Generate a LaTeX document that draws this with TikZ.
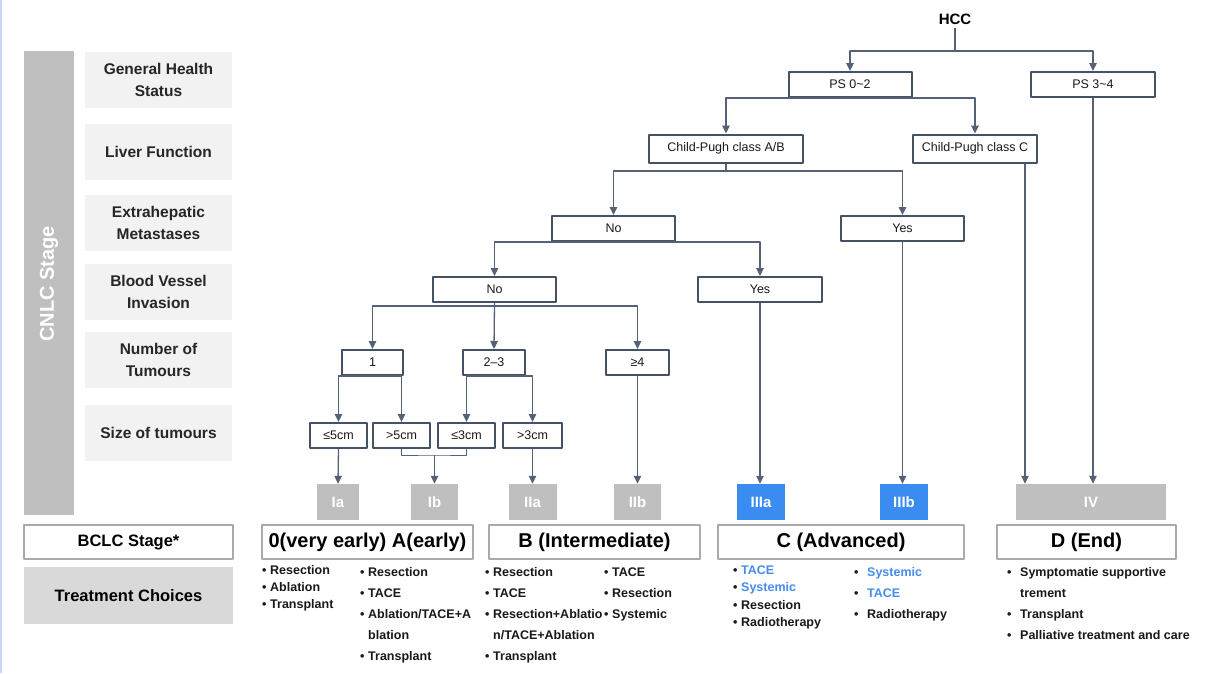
\documentclass[tikz,border=0pt]{standalone}
\usepackage{fontspec}
\setmainfont{Liberation Sans}
\usetikzlibrary{arrows.meta}

\definecolor{edgeblue}{RGB}{200,214,250}
\definecolor{bargray}{RGB}{191,191,191}
\definecolor{rowgray}{RGB}{242,242,242}
\definecolor{treatgray}{RGB}{217,217,217}
\definecolor{boxline}{RGB}{68,82,102}
\definecolor{arrline}{RGB}{84,97,118}
\definecolor{stagegray}{RGB}{191,191,191}
\definecolor{stageblue}{RGB}{58,140,240}
\definecolor{txtblue}{RGB}{70,140,240}
\definecolor{bclcline}{RGB}{170,170,170}

\newcommand{\itm}[2][8pt]{\makebox[#1][l]{\textbullet}#2}
\newcommand{\blu}[1]{\textcolor{txtblue}{#1}}

\tikzset{
  rowbox/.style={fill=rowgray, minimum width=147, minimum height=56, inner sep=0pt,
    align=center, font=\bfseries\fontsize{15.5}{22}\selectfont, text=black!85},
  treebox/.style={draw=boxline, line width=2pt, fill=white, minimum height=25,
    inner sep=0pt, text=black!90, font=\fontsize{12.5}{14}\selectfont},
  stagebox/.style={fill=#1, minimum height=36, inner sep=0pt, text=white,
    font=\bfseries\fontsize{15}{17}\selectfont},
  bclcbox/.style={draw=bclcline, line width=1.2pt, fill=white, minimum height=34,
    inner sep=0pt, font=\bfseries\fontsize{20}{24}\selectfont},
  txlist/.style={anchor=north west, inner sep=0pt, align=left, text=black!90},
  line/.style={draw=arrline, line width=1.3pt},
  arr/.style={line, -{Triangle[length=8pt,width=7.5pt]}}
}

\begin{document}
\begin{tikzpicture}[x=1pt,y=-1pt,line join=round]
  \useasboundingbox (0,0) rectangle (1211,673);
  \fill[white] (0,0) rectangle (1211,673);
  \fill[edgeblue] (0,0) rectangle (2,673);

  % Left panel
  \fill[bargray] (24,51) rectangle (74,515);
  \node[rotate=90, text=white, font=\bfseries\fontsize{20}{24}\selectfont] (cnlc) at (49,284) {CNLC Stage};
  \node[rowbox] (rgh) at (158.5,79.5) {General Health\\Status};
  \node[rowbox] (rlf) at (158.5,152) {Liver Function};
  \node[rowbox] (rem) at (158.5,222.5) {Extrahepatic\\Metastases};
  \node[rowbox] (rbv) at (158.5,291.5) {Blood Vessel\\Invasion};
  \node[rowbox] (rnt) at (158.5,359.5) {Number of\\Tumours};
  \node[rowbox] (rsz) at (158.5,432.5) {Size of tumours};
  \node[bclcbox, minimum width=209, font=\bfseries\fontsize{16.5}{20}\selectfont] (bclc) at (128.5,542) {BCLC Stage*};
  \node[fill=treatgray, minimum width=209, minimum height=57, inner sep=0pt,
    font=\bfseries\fontsize{16.5}{20}\selectfont] (treat) at (128.5,595.5) {Treatment Choices};

  % Decision tree
  \node[font=\bfseries\fontsize{15}{18}\selectfont] (hcc) at (955,19) {HCC};
  \node[treebox, minimum width=123] (ps02) at (850,84.5) {PS 0\textasciitilde2};
  \node[treebox, minimum width=124] (ps34) at (1093,84.5) {PS 3\textasciitilde4};
  \node[treebox, minimum width=154, minimum height=28] (cpab) at (726,148.5) {Child-Pugh class A/B};
  \node[treebox, minimum width=124, minimum height=28] (cpc) at (975,148.5) {Child-Pugh class C};
  \node[treebox, minimum width=123] (exno) at (613.5,228.5) {No};
  \node[treebox, minimum width=123] (exyes) at (902.5,228.5) {Yes};
  \node[treebox, minimum width=123] (bvno) at (494.5,289.5) {No};
  \node[treebox, minimum width=124] (bvyes) at (760,289.5) {Yes};
  \node[treebox, minimum width=61] (nt1) at (372.5,362.5) {1};
  \node[treebox, minimum width=62] (nt23) at (494,362.5) {2--3};
  \node[treebox, minimum width=63] (nt4) at (637.5,362.5) {≥4};
  \node[treebox, minimum width=57] (sz1) at (338.5,435.5) {≤5cm};
  \node[treebox, minimum width=57] (sz2) at (401.5,435.5) {>5cm};
  \node[treebox, minimum width=57] (sz3) at (466.5,435.5) {≤3cm};
  \node[treebox, minimum width=59] (sz4) at (532.5,435.5) {>3cm};

  % Stages
  \node[stagebox=stagegray, minimum width=42] (ia) at (338,502) {Ia};
  \node[stagebox=stagegray, minimum width=47] (ib) at (434.5,502) {Ib};
  \node[stagebox=stagegray, minimum width=48] (iia) at (532.5,502) {IIa};
  \node[stagebox=stagegray, minimum width=47] (iib) at (637.5,502) {IIb};
  \node[stagebox=stageblue, minimum width=48] (iiia) at (761,502) {IIIa};
  \node[stagebox=stageblue, minimum width=48] (iiib) at (904,502) {IIIb};
  \node[stagebox=stagegray, minimum width=150] (iv) at (1091,502) {IV};

  % Connectors
  \coordinate (j0) at (955,51);
  \draw[line] (hcc.south) -- (j0);
  \draw[arr] (j0) -| (ps02.north);
  \draw[arr] (j0) -| (ps34.north);
  \draw[arr] (ps02.south) -| (cpab.north);
  \draw[arr] (ps02.south) -| (cpc.north);
  \coordinate (j1) at (726,171);
  \draw[line] (cpab.south) -- (j1);
  \draw[arr] (j1) -| (exno.north);
  \draw[arr] (j1) -| (exyes.north);
  \draw[arr] (exno.south) -| (bvno.north);
  \draw[arr] (exno.south) -| (bvyes.north);
  \draw[arr] (bvno.south) -- ++(0,3) -| (nt1.north);
  \draw[arr] (bvno.south) -- (nt23.north);
  \draw[arr] (bvno.south) -- ++(0,3) -| (nt4.north);
  \draw[arr] (nt1.south) -| (sz1.north);
  \draw[arr] (nt1.south) -| (sz2.north);
  \draw[arr] (nt23.south) -| (sz3.north);
  \draw[arr] (nt23.south) -| (sz4.north);
  \draw[arr] (sz1.south) -- (ia.north);
  \coordinate (ibjoin) at (434.5,455);
  \draw[line, line width=1pt] (sz2.south) |- (ibjoin) -| (sz3.south);
  \draw[arr] (ibjoin) -- (ib.north);
  \draw[arr] (sz4.south) -- (iia.north);
  \draw[arr] (nt4.south) -- (iib.north);
  \draw[arr] (bvyes.south) -- (bvyes.south |- iiia.north);
  \draw[arr] (exyes.south) -- (exyes.south |- iiib.north);
  \draw[arr] ([xshift=50]cpc.south) -- ([xshift=50]cpc.south |- iv.north);
  \draw[arr] (ps34.south) -- (ps34.south |- iv.north);

  % BCLC stage row
  \node[bclcbox, minimum width=211] (st0a) at (367.5,542) {0(very early) A(early)};
  \node[bclcbox, minimum width=211] (stb) at (594.5,542) {B (Intermediate)};
  \node[bclcbox, minimum width=246] (stc) at (841,542) {C (Advanced)};
  \node[bclcbox, minimum width=179] (std) at (1086.5,542) {D (End)};

  % Treatment choices
  \node[txlist, font=\bfseries\fontsize{12.5}{17}\selectfont] (tx0) at (262,565.5)
    {\itm{Resection}\\\itm{Ablation}\\\itm{Transplant}};
  \node[txlist, font=\bfseries\fontsize{12.5}{21}\selectfont] (txa) at (360,567.5)
    {\itm{Resection}\\\itm{TACE}\\\itm{Ablation/TACE+A}\\\hspace*{8pt}blation\\\itm{Transplant}};
  \node[txlist, font=\bfseries\fontsize{12.5}{21}\selectfont] (txb1) at (485,567.5)
    {\itm{Resection}\\\itm{TACE}\\\itm{Resection+Ablatio}\\\hspace*{8pt}n/TACE+Ablation\\\itm{Transplant}};
  \node[txlist, font=\bfseries\fontsize{12.5}{21}\selectfont] (txb2) at (604,567.5)
    {\itm{TACE}\\\itm{Resection}\\\itm{Systemic}};
  \node[txlist, font=\bfseries\fontsize{12.5}{17.5}\selectfont] (txc1) at (733,565.5)
    {\itm{\blu{TACE}}\\\itm{\blu{Systemic}}\\\itm{Resection}\\\itm{Radiotherapy}};
  \node[txlist, font=\bfseries\fontsize{12.5}{21}\selectfont] (txc2) at (854,567.5)
    {\itm[13pt]{\blu{Systemic}}\\\itm[13pt]{\blu{TACE}}\\\itm[13pt]{Radiotherapy}};
  \node[txlist, font=\bfseries\fontsize{12.5}{21}\selectfont] (txd) at (1007,567.5)
    {\itm[13pt]{Symptomatie supportive}\\\hspace*{13pt}trement\\\itm[13pt]{Transplant}\\\itm[13pt]{Palliative treatment and care}};
\end{tikzpicture}
\end{document}
